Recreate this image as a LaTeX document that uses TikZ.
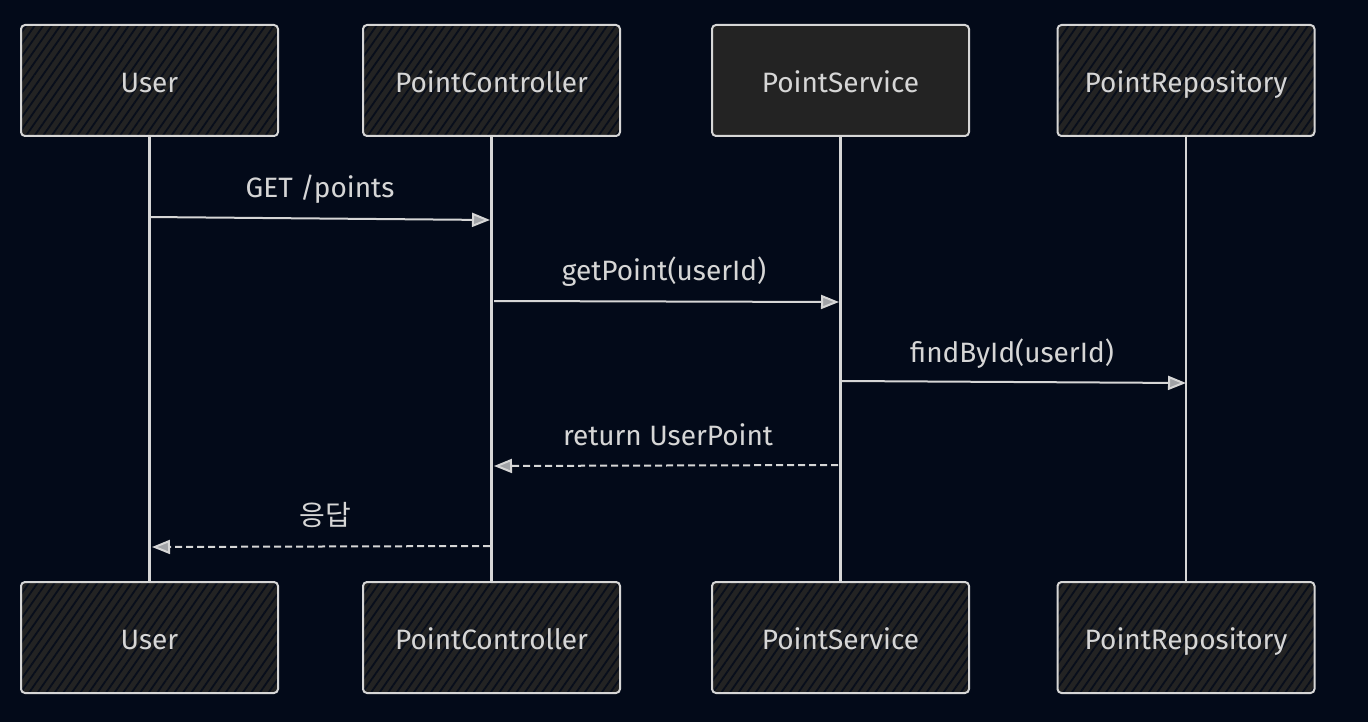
\documentclass[tikz,border=0pt]{standalone}
\usepackage{fontspec}
\setmainfont{Fira Sans}
\newfontfamily\krfont{Noto Sans CJK KR}
\usetikzlibrary{arrows.meta,patterns.meta}
\definecolor{bgcol}{HTML}{030A19}
\definecolor{boxcol}{HTML}{232323}
\definecolor{inkcol}{HTML}{D6D6D6}
\tikzset{
  plainactor/.style={draw=inkcol, line width=2pt, fill=boxcol, rounded corners=4pt,
    minimum width=257pt, minimum height=111pt, text=inkcol,
    font=\fontsize{28}{32}\selectfont, text height=30pt, text depth=6pt},
  actor/.style={plainactor,
    preaction={fill=boxcol},
    preaction={pattern={Lines[angle=55,distance=7pt,line width=1.8pt]}, pattern color=bgcol!85!boxcol},
    fill=none},
  lifeline/.style={draw=inkcol, line width=2.2pt},
  msg/.style={draw=inkcol, line width=2pt, -{Triangle[length=18pt,width=14pt,fill=inkcol!75!bgcol]}},
  reply/.style={msg, dash pattern=on 7pt off 4pt},
  lbl/.style={text=inkcol, font=\fontsize{28}{32}\selectfont, text height=20pt, text depth=6pt}
}
\begin{document}
\begin{tikzpicture}[x=1pt,y=-1pt]
\fill[bgcol] (0,0) rectangle (1368,722);
\useasboundingbox (0,0) rectangle (1368,722);

% actor heads
\node[actor] (u1) at (149.5,80.5) {User};
\node[actor] (c1) at (491.5,80.5) {PointController};
\node[plainactor] (s1) at (840.5,80.5) {PointService};
\node[actor] (r1) at (1186,80.5) {PointRepository};
% actor feet
\node[actor] (u2) at (149.5,637.5) {User};
\node[actor] (c2) at (491.5,637.5) {PointController};
\node[actor] (s2) at (840.5,637.5) {PointService};
\node[actor] (r2) at (1186,637.5) {PointRepository};

% lifelines
\draw[lifeline] (u1.south) -- (u2.north);
\draw[lifeline] (c1.south) -- (c2.north);
\draw[lifeline] (s1.south) -- (s2.north);
\draw[lifeline] (r1.south) -- (r2.north);

% message anchors on the lifelines
\coordinate (m1a) at (149,217);
\coordinate (m1b) at (490,220);
\coordinate (m2a) at (494,301);
\coordinate (m2b) at (839,302);
\coordinate (m3a) at (842,381);
\coordinate (m3b) at (1186,383);
\coordinate (m4a) at (838,465);
\coordinate (m4b) at (494,466);
\coordinate (m5a) at (490,546);
\coordinate (m5b) at (152,547);

% messages
\draw[msg] (m1a) -- (m1b);
\draw[msg] (m2a) -- (m2b);
\draw[msg] (m3a) -- (m3b);
\draw[reply] (m4a) -- (m4b);
\draw[reply] (m5a) -- (m5b);

% message labels
\node[lbl] (t1) at (320,191) {GET /points};
\node[lbl] (t2) at (664,273) {getPoint(userId)};
\node[lbl] (t3) at (1012,355) {findById(userId)};
\node[lbl] (t4) at (668,438) {return UserPoint};
\node[lbl] (t5) at (325,518) {\krfont 응답};
\end{tikzpicture}
\end{document}
